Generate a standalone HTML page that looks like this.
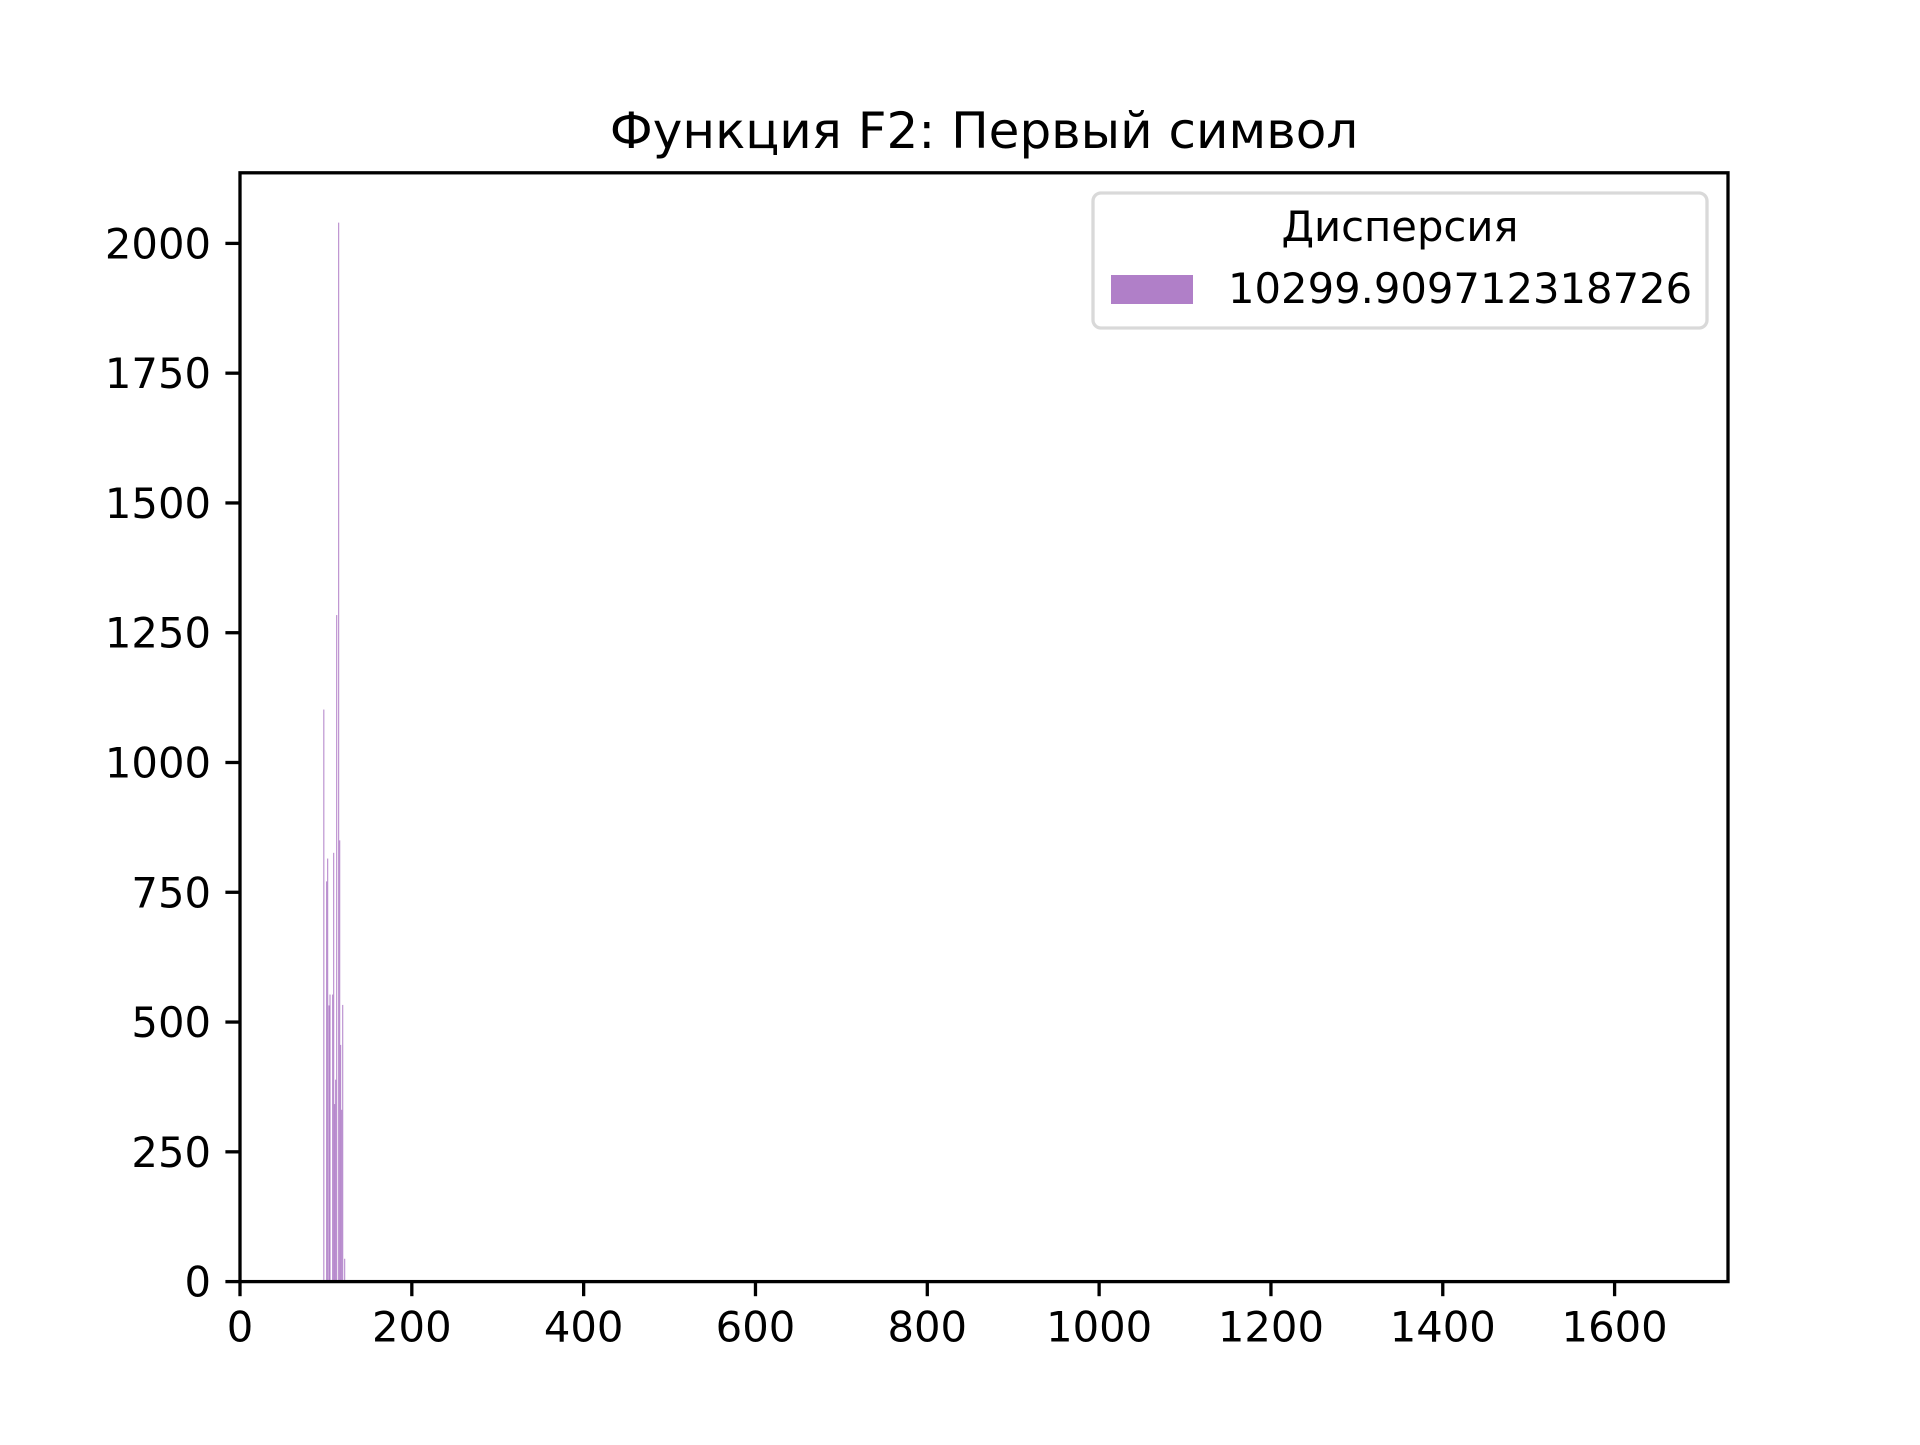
<!DOCTYPE html>
<html><head><meta charset="utf-8"><style>
body{margin:0;background:#fff}
svg text{font-family:"DejaVu Sans","Liberation Sans",sans-serif;fill:#000}
</style></head><body>
<svg id="chart" width="1920" height="1440" viewBox="0 0 1920 1440" xmlns="http://www.w3.org/2000/svg">
<rect width="1920" height="1440" fill="#fff"/>
<text x="984" y="148" font-size="50" text-anchor="middle">Функция F2: Первый символ</text>
<g id="bars"></g>
<g id="xticks"></g>
<g id="yticks"></g>
<rect x="240" y="172.8" width="1488" height="1108.8" fill="none" stroke="#000" stroke-width="3.3"/>
<g>
<rect x="1093" y="193" width="614" height="135" rx="8" fill="#fff" fill-opacity="0.8" stroke="#d9d9d9" stroke-width="3.3"/>
<text x="1400" y="241" font-size="41.7" text-anchor="middle">Дисперсия</text>
<rect x="1111" y="275" width="82" height="29" fill="#b07fc8"/>
<text x="1228" y="303" font-size="41.7">10299.909712318726</text>
</g>
</svg>
<script>
const binStarts=[97,100.3,101.5,103,104.2,107.3,108.5,109.6,110.8,112,114.3,115.5,116.6,117.8,119,121.3];
const counts=[1102,771,815,532,553,553,826,342,389,1284,2040,850,456,331,533,44];
const xTicks=[0,200,400,600,800,1000,1200,1400,1600];
const yTicks=[0,250,500,750,1000,1250,1500,1750,2000];
const X0=240,X1=1728,Y0=1281.6,Y1=172.8,XMAX=1732,YMAX=2136;
const sx=v=>X0+v/XMAX*(X1-X0);
const sy=v=>Y0-v/YMAX*(Y0-Y1);
const NS="http://www.w3.org/2000/svg";
const bars=document.getElementById('bars');
binStarts.forEach((b,i)=>{
 const r=document.createElementNS(NS,'rect');
 
 
 r.setAttribute('x',sx(b));
 r.setAttribute('y',sy(counts[i]));
 r.setAttribute('width',Math.max(1,sx(b+0.8)-sx(b)));
 r.setAttribute('height',Y0-sy(counts[i]));
 r.setAttribute('fill','#b07fc8');
 bars.appendChild(r);
});
const xg=document.getElementById('xticks');
xTicks.forEach(t=>{
 const l=document.createElementNS(NS,'line');
 
 
 l.setAttribute('x1',sx(t));l.setAttribute('x2',sx(t));
 l.setAttribute('y1',Y0);l.setAttribute('y2',Y0+14.6);
 l.setAttribute('stroke','#000');l.setAttribute('stroke-width','3.3');
 xg.appendChild(l);
 const tx=document.createElementNS(NS,'text');
 
 
 tx.setAttribute('x',sx(t));tx.setAttribute('y',Y0+60);
 tx.setAttribute('font-size','41.7');tx.setAttribute('text-anchor','middle');
 tx.textContent=t;
 xg.appendChild(tx);
});
const yg=document.getElementById('yticks');
yTicks.forEach(t=>{
 const l=document.createElementNS(NS,'line');
 
 
 l.setAttribute('x1',X0-14.6);l.setAttribute('x2',X0);
 l.setAttribute('y1',sy(t));l.setAttribute('y2',sy(t));
 l.setAttribute('stroke','#000');l.setAttribute('stroke-width','3.3');
 yg.appendChild(l);
 const tx=document.createElementNS(NS,'text');
 
 
 tx.setAttribute('x',X0-29);tx.setAttribute('y',sy(t)+15);
 tx.setAttribute('font-size','41.7');tx.setAttribute('text-anchor','end');
 tx.textContent=t;
 yg.appendChild(tx);
});
</script>
</body></html>
